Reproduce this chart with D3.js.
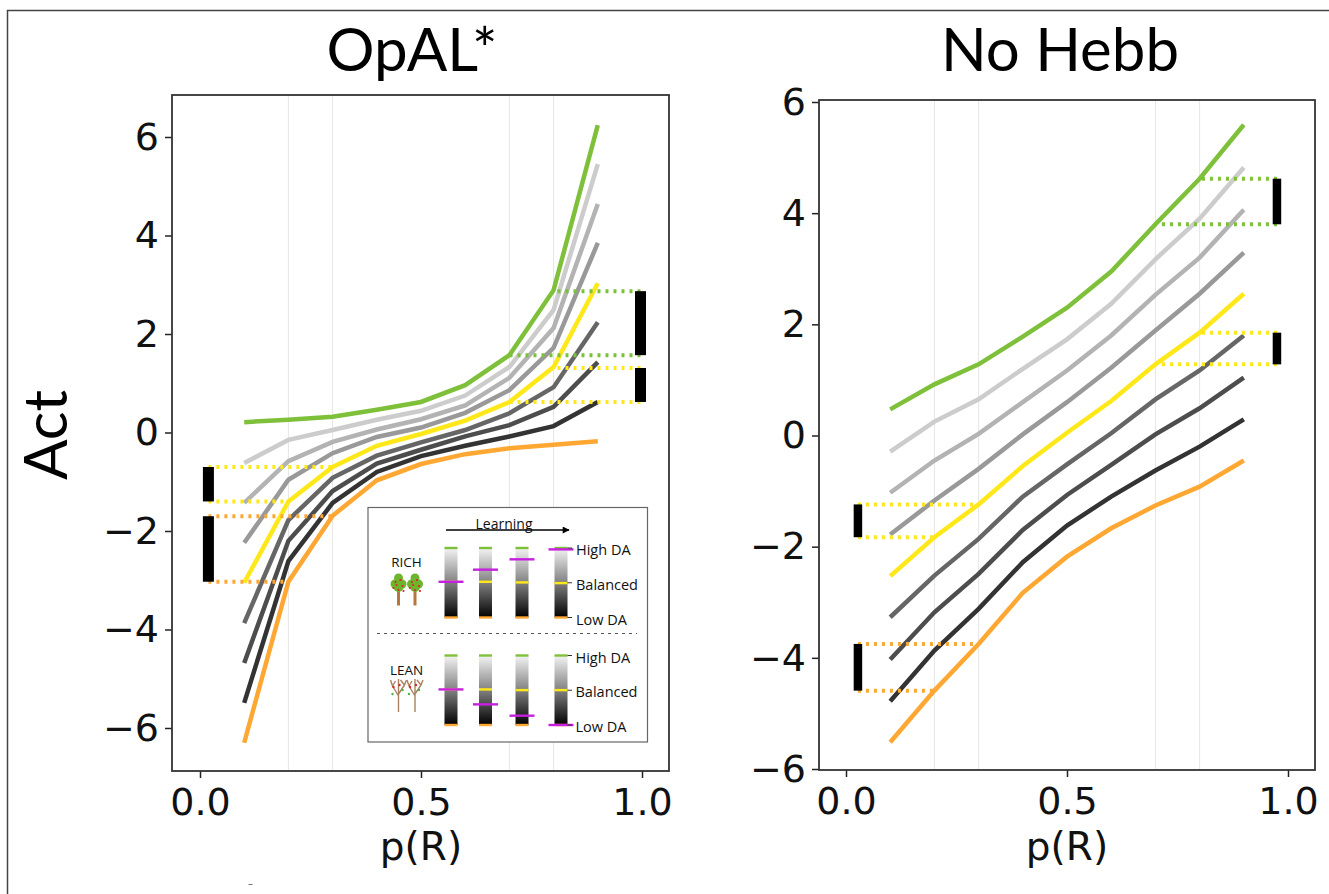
<!DOCTYPE html>
<html>
<head>
<meta charset="utf-8">
<script src="https://cdn.jsdelivr.net/npm/d3@7"></script>
<style>
html, body { margin: 0; padding: 0; background: #fff; }
svg { display: block; }
text { font-family: "DejaVu Sans", sans-serif; fill: #111; }
.title { font-family: Lato, sans-serif; fill: #000; }
.inset text { font-family: "Open Sans", sans-serif; }
</style>
</head>
<body>
<div id="chart"></div>
<script>
// values
var pVals = [0.1, 0.2, 0.3, 0.4, 0.5, 0.6, 0.7, 0.8, 0.9];
var seriesNames = ["green", "gray1", "gray2", "gray3", "yellow", "dark1", "dark2", "dark3", "orange"];
var seriesColors = ["#7fc03a", "#cccccc", "#b3b3b3", "#999999", "#ffe81a", "#666666", "#4d4d4d", "#333333", "#ffa733"];

var opalGreen  = [0.21, 0.26, 0.32, 0.46, 0.62, 0.96, 1.57, 2.89, 6.24];
var opalGray1  = [-0.62, -0.15, 0.05, 0.26, 0.44, 0.75, 1.33, 2.49, 5.45];
var opalGray2  = [-1.43, -0.58, -0.19, 0.06, 0.27, 0.55, 1.11, 2.12, 4.64];
var opalGray3  = [-2.24, -0.96, -0.42, -0.09, 0.10, 0.40, 0.86, 1.72, 3.85];
var opalYellow = [-3.05, -1.40, -0.70, -0.27, -0.03, 0.24, 0.62, 1.33, 3.03];
var opalDark1  = [-3.87, -1.78, -0.92, -0.47, -0.20, 0.05, 0.39, 0.92, 2.24];
var opalDark2  = [-4.68, -2.20, -1.19, -0.63, -0.35, -0.08, 0.15, 0.52, 1.43];
var opalDark3  = [-5.49, -2.61, -1.43, -0.80, -0.48, -0.27, -0.08, 0.13, 0.62];
var opalOrange = [-6.30, -3.03, -1.69, -0.97, -0.64, -0.44, -0.32, -0.25, -0.18];

var hebbGreen  = [0.47, 0.92, 1.28, 1.78, 2.30, 2.95, 3.80, 4.62, 5.59];
var hebbGray1  = [-0.29, 0.25, 0.65, 1.20, 1.73, 2.37, 3.17, 3.90, 4.82];
var hebbGray2  = [-1.03, -0.45, 0.03, 0.60, 1.17, 1.80, 2.53, 3.20, 4.06];
var hebbGray3  = [-1.78, -1.17, -0.60, 0.02, 0.60, 1.22, 1.89, 2.55, 3.29];
var hebbYellow = [-2.53, -1.83, -1.24, -0.55, 0.05, 0.62, 1.28, 1.85, 2.55];
var hebbDark1  = [-3.27, -2.52, -1.86, -1.10, -0.52, 0.04, 0.65, 1.17, 1.80];
var hebbDark2  = [-4.03, -3.18, -2.49, -1.70, -1.07, -0.53, 0.02, 0.49, 1.04];
var hebbDark3  = [-4.78, -3.87, -3.12, -2.28, -1.62, -1.10, -0.63, -0.20, 0.29];
var hebbOrange = [-5.52, -4.59, -3.75, -2.83, -2.18, -1.67, -1.26, -0.92, -0.45];

var xTicks = [0, 0.5, 1];
var yTicks = [-6, -4, -2, 0, 2, 4, 6];
var gridTicks = [0.2, 0.3, 0.7, 0.8];

// [bar p, low value, high value, p reached by the low dots, p reached by the high dots, colour]
var opalBars = [
	[0.019, -1.40, -0.70, 0.2, 0.3, "#ffe81a"],
	[0.019, -3.03, -1.70, 0.2, 0.3, "#ffa733"],
	[0.9966, 1.57, 2.87, 0.7, 0.8, "#7fc03a"],
	[0.9966, 0.62, 1.31, 0.7, 0.8, "#ffe81a"]
];
var hebbBars = [
	[0.027, -1.83, -1.24, 0.2, 0.3, "#ffe81a"],
	[0.027, -4.59, -3.75, 0.2, 0.3, "#ffa733"],
	[0.975, 3.80, 4.62, 0.7, 0.8, "#7fc03a"],
	[0.975, 1.28, 1.85, 0.7, 0.8, "#ffe81a"]
];

// inset: 0 = low DA, 1 = high DA
var richPurple = [0.514, 0.688, 0.837, 0.98];
var richYellow = [0.514, 0.514, 0.505, 0.495];
var leanPurple = [0.512, 0.297, 0.134, 0];
var leanYellow = [0.512, 0.512, 0.502, 0.502];
var daLabels = ["High DA", "Balanced", "Low DA"];

var svg = d3.select("#chart").append("svg")
	.attr("width", 1329)
	.attr("height", 894);

// outer frame of the figure: only top and left edges show
svg.append("path")
	.attr("d", "M7.5,894V10.5H1329")
	.attr("fill", "none")
	.attr("stroke", "#444")
	.attr("stroke-width", 1.5);
// stray speck under the left panel
svg.append("line")
	.attr("x1", 248.5).attr("x2", 252.5).attr("y1", 884.5).attr("y2", 884.5)
	.attr("stroke", "#777").attr("stroke-width", 1);

function drawPanel(title, series, bars, box, xr, yr, yDomain, titleX, titleSize) {
	var x = d3.scaleLinear().domain([0, 1]).range(xr);
	var y = d3.scaleLinear().domain(yDomain).range(yr);
	var g = svg.append("g");

	g.selectAll(".grid").data(gridTicks).enter().append("line")
		.attr("x1", function(d) { return x(d); })
		.attr("x2", function(d) { return x(d); })
		.attr("y1", box.top)
		.attr("y2", box.bottom)
		.attr("stroke", "#e6e6e6")
		.attr("stroke-width", 1);

	var line = d3.line()
		.x(function(d, i) { return x(pVals[i]); })
		.y(function(d) { return y(d); });

	g.selectAll(".series").data(series).enter().append("path")
		.attr("d", line)
		.attr("fill", "none")
		.attr("stroke", function(d, i) { return seriesColors[i]; })
		.attr("stroke-width", 4.5);

	// dotted guides, then the black bars over them
	bars.forEach(function(b) {
		var xb = x(b[0]);
		[[b[1], b[3]], [b[2], b[4]]].forEach(function(end) {
			g.append("line")
				.attr("x1", xb)
				.attr("x2", x(end[1]))
				.attr("y1", y(end[0]))
				.attr("y2", y(end[0]))
				.attr("stroke", b[5])
				.attr("stroke-width", 4)
				.attr("stroke-dasharray", "3,5");
		});
		g.append("rect")
			.attr("x", xb - box.barW / 2)
			.attr("y", y(b[2]))
			.attr("width", box.barW)
			.attr("height", y(b[1]) - y(b[2]))
			.attr("fill", "#000");
	});

	var xAxis = d3.axisBottom(x).tickValues(xTicks).tickSize(7).tickPadding(10).tickFormat(d3.format(".1f"));
	var yAxis = d3.axisLeft(y).tickValues(yTicks).tickSize(7).tickPadding(6);

	var xg = g.append("g").attr("transform", "translate(0," + box.bottom + ")").call(xAxis);
	var yg = g.append("g").attr("transform", "translate(" + box.left + ",0)").call(yAxis);
	xg.select(".domain").remove();
	yg.select(".domain").remove();
	g.selectAll(".tick line").attr("stroke", "#222").attr("stroke-width", 1.5);
	g.selectAll(".tick text").style("font-family", '"DejaVu Sans", sans-serif').style("font-size", "38px").attr("fill", "#111");

	g.append("rect")
		.attr("x", box.left).attr("y", box.top)
		.attr("width", box.right - box.left).attr("height", box.bottom - box.top)
		.attr("fill", "none")
		.attr("stroke", "#333")
		.attr("stroke-width", 1.8);

	g.append("text")
		.attr("class", "title")
		.attr("x", titleX).attr("y", 71)
		.attr("text-anchor", "middle")
		.style("font-size", titleSize + "px")
		.text(title);

	g.append("text")
		.attr("x", x(0.5)).attr("y", 860)
		.attr("text-anchor", "middle")
		.style("font-size", "39px")
		.text("p(R)");
}

drawPanel("OpAL*",
	[opalGreen, opalGray1, opalGray2, opalGray3, opalYellow, opalDark1, opalDark2, opalDark3, opalOrange],
	opalBars,
	{ left: 172, right: 669, top: 95, bottom: 771, barW: 11 },
	[200, 642], [728, 137], [-6, 6], 412, 60);

drawPanel("No Hebb",
	[hebbGreen, hebbGray1, hebbGray2, hebbGray3, hebbYellow, hebbDark1, hebbDark2, hebbDark3, hebbOrange],
	hebbBars,
	{ left: 819, right: 1315, top: 100, bottom: 770, barW: 8.5 },
	[846, 1288], [769, 102], [-6, 6], 1060, 60);

svg.append("text")
	.attr("class", "title")
	.attr("transform", "translate(67,435) rotate(-90)")
	.attr("text-anchor", "middle")
	.style("font-size", "60px")
	.text("Act");

// ---- inset schematic ----
var defs = svg.append("defs");
var grad = defs.append("linearGradient")
	.attr("id", "daGrad")
	.attr("x1", 0).attr("x2", 0).attr("y1", 0).attr("y2", 1);
grad.append("stop").attr("offset", "0%").attr("stop-color", "#f4f4f4");
grad.append("stop").attr("offset", "50%").attr("stop-color", "#808080");
grad.append("stop").attr("offset", "100%").attr("stop-color", "#000");

defs.append("marker")
	.attr("id", "arrowHead")
	.attr("viewBox", "0 0 10 10")
	.attr("refX", 9).attr("refY", 5)
	.attr("markerWidth", 9).attr("markerHeight", 7)
	.attr("markerUnits", "userSpaceOnUse")
	.attr("orient", "auto")
	.append("path").attr("d", "M0,0L10,5L0,10z").attr("fill", "#000");

var inset = svg.append("g").attr("class", "inset");
inset.append("rect")
	.attr("x", 368).attr("y", 507.5)
	.attr("width", 279.5).attr("height", 234.5)
	.attr("fill", "#fff")
	.attr("stroke", "#666")
	.attr("stroke-width", 1.2);

inset.append("line")
	.attr("x1", 446).attr("x2", 569).attr("y1", 530).attr("y2", 530)
	.attr("stroke", "#000").attr("stroke-width", 1.3)
	.attr("marker-end", "url(#arrowHead)");
inset.append("text")
	.attr("x", 504).attr("y", 529)
	.attr("text-anchor", "middle")
	.style("font-size", "14px")
	.text("Learning");
inset.append("line")
	.attr("x1", 377).attr("x2", 637).attr("y1", 633.5).attr("y2", 633.5)
	.attr("stroke", "#555").attr("stroke-width", 1)
	.attr("stroke-dasharray", "3,4");

var colX = [451, 485.5, 522, 561];

function drawStage(name, nameY, top, bottom, labelX, purple, yellow) {
	var ly = d3.scaleLinear().domain([0, 1]).range([bottom, top]);
	var g = inset.append("g");
	g.selectAll(".col").data(colX).enter().append("rect")
		.attr("x", function(d) { return d - 6.5; })
		.attr("y", top)
		.attr("width", 13)
		.attr("height", bottom - top)
		.attr("fill", "url(#daGrad)");
	function bar(data, getW, color) {
		g.selectAll(null).data(data).enter().append("line")
			.attr("x1", function(d, i) { return colX[i] - getW(i) / 2; })
			.attr("x2", function(d, i) { return colX[i] + getW(i) / 2; })
			.attr("y1", function(d) { return ly(d); })
			.attr("y2", function(d) { return ly(d); })
			.attr("stroke", color)
			.attr("stroke-width", 2.4);
	}
	bar([1, 1, 1, 1], function() { return 13; }, "#7fc03a");
	bar([0, 0, 0, 0], function() { return 13; }, "#ffa733");
	bar(yellow, function() { return 13; }, "#ffe81a");
	bar(purple, function() { return 25; }, "#c71fe0");

	[1, 0.5, 0].forEach(function(level, i) {
		g.append("line")
			.attr("x1", 567.5).attr("x2", 572)
			.attr("y1", ly(level)).attr("y2", ly(level))
			.attr("stroke", "#333").attr("stroke-width", 1);
		g.append("text")
			.attr("x", labelX).attr("y", ly(level) + 7)
			.style("font-size", "14.5px")
			.text(daLabels[i]);
	});
	g.append("text")
		.attr("x", 406.5).attr("y", nameY)
		.attr("text-anchor", "middle")
		.style("font-size", "13.5px")
		.text(name);
}

drawStage("RICH", 567, 548, 617.5, 576, richPurple, richYellow);
drawStage("LEAN", 675, 655.5, 725, 575.5, leanPurple, leanYellow);

// little trees, drawn by hand from the picture
var treeX = [398.5, 415];
var appleOffsets = [[-3, -6], [2, -8], [4, -2], [-5, 0], [0, 2], [5, 3], [-2, -3]];
treeX.forEach(function(cx) {
	inset.append("rect").attr("x", cx - 1.5).attr("y", 586).attr("width", 3).attr("height", 19.5).attr("fill", "#b5763f");
	[[0, -10, 4.5], [-3.5, -4, 4.5], [3.5, -4, 4.5], [0, -1, 5]].forEach(function(c) {
		inset.append("circle").attr("cx", cx + c[0]).attr("cy", 588 + c[1]).attr("r", c[2]).attr("fill", "#6db52c");
	});
	appleOffsets.forEach(function(a) {
		inset.append("circle").attr("cx", cx + a[0]).attr("cy", 588 + a[1]).attr("r", 1.1).attr("fill", "#d9262c");
	});
	// bare tree
	var branches = "M0,30L0,6M0,14L-6,4M-6,4L-8,-2M-6,4L-3,-1M0,12L6,3M6,3L8,-2M6,3L2,-2M0,6L0,-3";
	inset.append("path")
		.attr("transform", "translate(" + cx + ",682)")
		.attr("d", branches)
		.attr("fill", "none")
		.attr("stroke", "#a9825f")
		.attr("stroke-width", 1.4);
	inset.append("circle").attr("cx", cx - 5).attr("cy", 687).attr("r", 1.2).attr("fill", "#d9262c");
	inset.append("circle").attr("cx", cx + 4).attr("cy", 690).attr("r", 1.2).attr("fill", "#4bb34b");
	inset.append("circle").attr("cx", cx + 1).attr("cy", 685).attr("r", 1.2).attr("fill", "#d9262c");
	inset.append("circle").attr("cx", cx - 6).attr("cy", 694).attr("r", 1.2).attr("fill", "#4bb34b");
});
</script>
</body>
</html>
